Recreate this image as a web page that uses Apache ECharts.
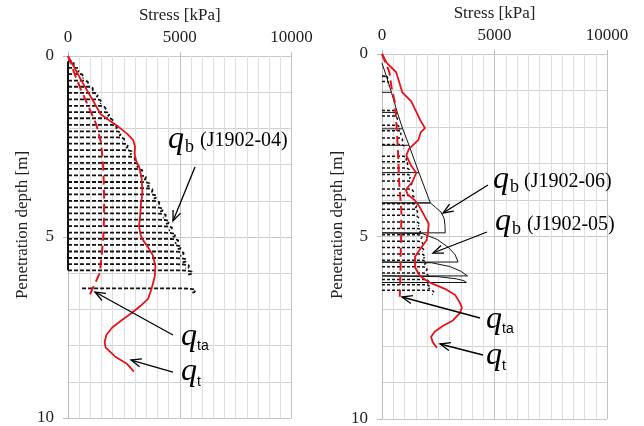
<!DOCTYPE html>
<html><head><meta charset="utf-8">
<script src="https://cdn.jsdelivr.net/npm/echarts/dist/echarts.min.js"></script>
<style>html,body{margin:0;padding:0;background:#fff}#c{width:644px;height:426px}</style>
</head><body><div id="c"></div>
<script>
// ---------- tick labels ----------
const stressTicks = [0, 5000, 10000];
const depthTicks = [0, 5, 10];

// ---------- LEFT PANEL: J1902-04 ----------
// q_b cycles (dashed black): start depth [m] and peak stress [kPa]
const j04Depth = [0.15,0.33,0.5,0.68,0.85,1.02,1.2,1.38,1.55,1.72,1.9,2.08,2.25,2.42,2.6,2.78,2.95,3.12,3.3,3.48,3.65,3.82,4.0,4.18,4.35,4.52,4.7,4.88,5.05,5.22,5.4,5.58,5.75,5.92];
const j04Peak  = [260,470,700,900,1120,1330,1500,1690,1850,2030,2200,2380,2540,2700,2880,3030,3200,3360,3520,3690,3820,3990,4130,4290,4420,4560,4700,4850,4980,5100,5230,5340,5470,5600];
const j04LastDepth = [6.42];
const j04LastStart = [630];
const j04LastPeak  = [5750];
// q_t (solid red) and q_ta (dashed red)
const qtLeftDepth  = [0,0.7,1.3,1.6,1.8,1.95,2.15,2.32,2.5,2.7,2.9,3.1,3.4,3.8,4.1,4.4,4.7,4.95,5.1,5.3,5.5,5.8,6.1,6.4,6.7,6.9,7.1,7.3,7.5,7.7,7.9,8.05,8.3,8.5,8.72];
const qtLeftStress = [0,620,1180,1450,1900,2250,2650,2910,3000,2980,3050,3200,3300,3330,3260,3230,3180,3250,3370,3600,3790,3910,3880,3750,3590,3250,2850,2400,1980,1720,1640,1680,2100,2630,2950];
const qtaLeftDepth  = [0,0.5,0.9,1.4,1.9,2.4,3.0,3.5,4.0,4.5,5.0,5.5,6.0,6.45,6.7];
const qtaLeftStress = [0,300,560,920,1270,1480,1570,1600,1620,1610,1580,1510,1420,1080,900];

// ---------- RIGHT PANEL: J1902-05 / J1902-06 ----------
// J1902-05 q_b cycles (dashed black)
const j05Depth = [0.6,0.75,1.55,1.7,1.95,2.1,2.3,2.48,2.8,2.95,3.12,3.3,3.48,3.7,3.88,4.1,4.25,4.42,4.6,4.78,4.95,5.13,5.3,5.48,5.65,5.83,6.0,6.18,6.32];
const j05Peak  = [250,300,630,690,800,850,920,985,1100,1150,1210,1270,1330,1400,1460,1540,1590,1630,1680,1730,1780,1830,1870,1920,1960,2010,2060,2110,2150];
const j05LastDepth = [6.47];
const j05LastPeak  = [2320];
// J1902-06 q_b (solid black): upper envelope with unloading lines at cycle ends
const j06EnvDepth  = [0.25,0.62,1.05,1.6,2.05,2.5,3.25,4.08];
const j06EnvStress = [0,200,420,680,920,1200,1640,2150];
// J1902-06 deep cycles
const j06aDepth  = [4.08,4.08,4.2,4.33,4.5,4.7,4.9,4.9];
const j06aStress = [0,2150,2380,2620,2760,2800,2810,0];
const j06bDepth  = [4.9,4.92,5.08,5.3,5.5,5.7,5.7];
const j06bStress = [0,1800,2450,2950,3250,3380,0];
const j06cDepth  = [5.7,5.72,5.82,5.95,6.08,6.08];
const j06cStress = [0,2200,3000,3500,3800,0];
const j06dDepth  = [6.08,6.1,6.16,6.21,6.26,6.26];
const j06dStress = [0,2500,3300,3640,3750,0];
// q_t / q_ta right
const qtRightDepth  = [0,0.25,0.5,0.8,1.05,1.3,1.58,1.8,2.03,2.15,2.35,2.6,2.78,3.04,3.26,3.5,3.72,3.86,4.0,4.2,4.45,4.65,4.9,5.1,5.35,5.55,5.85,6.08,6.25,6.45,6.6,6.8,6.95,7.1,7.3,7.45,7.6,7.75,7.9,8.05];
const qtRightStress = [0,220,630,780,900,1300,1520,1690,1910,1720,1620,1200,1080,1280,1520,1350,1060,1150,1450,1680,1900,2080,2040,1980,1690,1470,1470,1690,2080,2850,3250,3450,3550,3460,3150,2700,2350,2180,2260,2440];
const qtaRightDepth  = [0,0.5,0.9,1.35,2.0,2.8,3.5,4.3,5.0,5.5,6.0,6.4,6.65];
const qtaRightStress = [0,330,420,580,650,720,760,860,850,830,820,800,790];

// hook shape of one loading cycle: [fraction of peak stress, depth offset m]
const hookFrac  = [0,0.88,0.95,0.99,1.0,0.985,0.96];
const hookDepth = [0,0,0.01,0.035,0.07,0.1,0.12];

const FONT = '"Liberation Serif","Times New Roman",serif';
const SANS = '"Liberation Sans",Arial,sans-serif';
const BLACK = '#111';
const RED = '#e3141c';

const series = [];
function addLine(xi, stress, depth, style, z) {
  const data = stress.map((s, i) => [s, depth[i]]);
  series.push({type:'line', xAxisIndex:xi, yAxisIndex:xi, data, symbol:'none', showSymbol:false,
    silent:true, z:z||2, lineStyle:style});
}
function addCycles(xi, depths, peaks, starts, style) {
  depths.forEach((d, k) => {
    const p = peaks[k];
    const s0 = starts ? starts[k] : 0;
    const st = hookFrac.map((f, i) => i === 0 ? s0 : f * p);
    const dp = hookDepth.map(o => d + o);
    addLine(xi, st, dp, style, 2);
  });
}
const dashBlack = {color:BLACK, width:1.8, type:[4,2]};
const dashBlack05 = {color:BLACK, width:1.5, type:[3,2]};
const solidBlack = {color:BLACK, width:1};

// Left panel
addCycles(0, j04Depth, j04Peak, null, dashBlack);
addCycles(0, j04LastDepth, j04LastPeak, j04LastStart, dashBlack);
addLine(0, [0,0], [j04Depth[0], j04Depth[j04Depth.length-1]], {color:BLACK, width:2}, 2);
addLine(0, qtaLeftStress, qtaLeftDepth, {color:RED, width:2, type:[9,5]}, 5);
addLine(0, qtLeftStress, qtLeftDepth, {color:RED, width:1.8}, 5);

// Right panel
addCycles(1, j05Depth, j05Peak, null, dashBlack05);
addCycles(1, j05LastDepth, j05LastPeak, null, dashBlack05);
addLine(1, j06EnvStress, j06EnvDepth, solidBlack, 3);
j06EnvDepth.forEach((d, i) => { if (i >= 1) addLine(1, [j06EnvStress[i], 0], [d, d], solidBlack, 3); });
addLine(1, j06aStress, j06aDepth, solidBlack, 3);
addLine(1, j06bStress, j06bDepth, solidBlack, 3);
addLine(1, j06cStress, j06cDepth, solidBlack, 3);
addLine(1, j06dStress, j06dDepth, solidBlack, 3);
addLine(1, qtaRightStress, qtaRightDepth, {color:RED, width:2, type:[9,5]}, 5);
addLine(1, qtRightStress, qtRightDepth, {color:RED, width:1.8}, 5);

// Axes
const xAxes = [0,1].map(i => ({
  gridIndex:i, type:'value', position:'top',
  min:stressTicks[0], max:stressTicks[stressTicks.length-1], interval:stressTicks[1]-stressTicks[0],
  name:'Stress [kPa]', nameLocation:'middle', nameGap:28,
  nameTextStyle:{fontFamily:FONT, fontSize:17, color:'#222'},
  axisLabel:{fontFamily:FONT, fontSize:17, color:'#222', margin:10, formatter: v => String(v)},
  axisLine:{show:false},
  axisTick:{show:true, length:4, lineStyle:{color:'#bbb'}},
  splitLine:{show:true, lineStyle:{color:'#c2c2c2', width:1}},
  minorTick:{show:false, splitNumber:10},
  minorSplitLine:{show:true, lineStyle:{color:'#dedede', width:1}}
}));
const yAxes = [0,1].map(i => ({
  gridIndex:i, type:'value', inverse:true,
  min:depthTicks[0], max:depthTicks[depthTicks.length-1], interval:depthTicks[1]-depthTicks[0],
  axisLabel:{fontFamily:FONT, fontSize:17, color:'#222', margin:14, formatter: v => String(v)},
  axisLine:{show:true, lineStyle:{color:'#bdbdbd'}},
  axisTick:{show:true, length:5, lineStyle:{color:'#bdbdbd'}},
  splitLine:{show:true, lineStyle:{color:'#c8c8c8', width:1}},
  minorTick:{show:false, splitNumber:5},
  minorSplitLine:{show:true, lineStyle:{color:'#d2d2d2', width:1}}
}));

// Annotations (pixel layout)
const arrows = [[195,167,173,221],[173,335,95,292],[173,372,131,360],
                [488,185,443,213],[487,232,433,253],[480,318,402,297],[483,355,440,344]];
const graphics = [];
arrows.forEach(([x1,y1,x2,y2]) => {
  graphics.push({type:'line', shape:{x1,y1,x2,y2}, style:{stroke:'#000', lineWidth:1.3}, z:100});
  const a = Math.atan2(y2-y1, x2-x1), L = 11, w = 0.38;
  graphics.push({type:'polyline', shape:{points:[
    [x2 - L*Math.cos(a-w), y2 - L*Math.sin(a-w)], [x2, y2], [x2 - L*Math.cos(a+w), y2 - L*Math.sin(a+w)]]},
    style:{stroke:'#000', lineWidth:1.3, fill:null}, z:100});
});
function txt(x, baseline, text, size, family, italic) {
  graphics.push({type:'text', x, y: baseline - 0.32*size, z:100,
    style:{text, font:(italic?'italic ':'') + size + 'px ' + family, fill:'#000', align:'left', verticalAlign:'middle'}});
}
// left
txt(168,150,'q',32,FONT,true); txt(185,153,'b',18,FONT,false); txt(200,147,'(J1902-04)',20,FONT,false);
txt(181,347,'q',32,FONT,true); txt(197,351,'ta',14,SANS,false);
txt(181,382,'q',32,FONT,true); txt(197,387,'t',14,SANS,false);
// right
txt(493,190,'q',32,FONT,true); txt(510,193,'b',18,FONT,false); txt(524,188,'(J1902-06)',20,FONT,false);
txt(495,232,'q',32,FONT,true); txt(512,235,'b',18,FONT,false); txt(527,231,'(J1902-05)',20,FONT,false);
txt(486,330,'q',32,FONT,true); txt(502,334,'ta',14,SANS,false);
txt(486,366,'q',32,FONT,true); txt(502,371,'t',14,SANS,false);
// y-axis titles
[23, 338].forEach(x => graphics.push({type:'text', x, y:225, rotation:Math.PI/2, z:100,
  style:{text:'Penetration depth [m]', font:'17px ' + FONT, fill:'#222', align:'center', verticalAlign:'middle'}}));

const chart = echarts.init(document.getElementById('c'), null, {renderer:'canvas'});
chart.setOption({
  animation:false, backgroundColor:'#fff',
  grid:[{left:68, top:56, width:223.5, height:362, outerBoundsMode:'none'},
        {left:382, top:54, width:225, height:365, outerBoundsMode:'none'}],
  xAxis:xAxes, yAxis:yAxes, series, graphic:graphics
});
</script></body></html>
